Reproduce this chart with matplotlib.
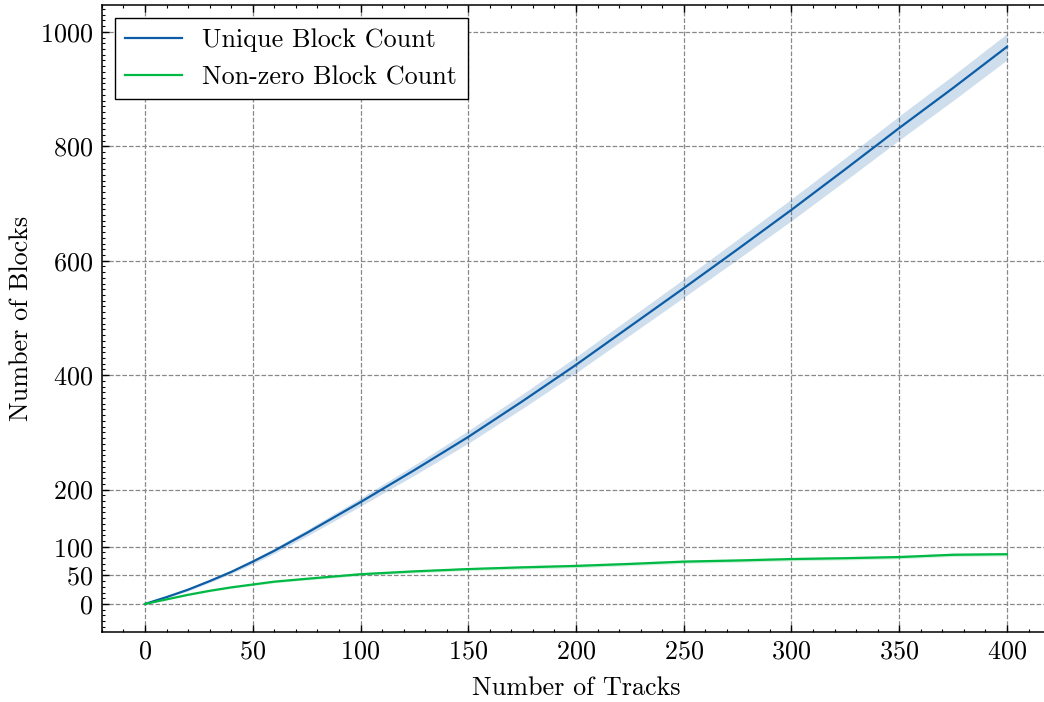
import matplotlib
matplotlib.use("Agg")
import matplotlib.pyplot as plt
from matplotlib.ticker import MultipleLocator, FixedLocator
import numpy as np

plt.rcParams['font.family'] = 'serif'
plt.rcParams['font.serif'] = ['cmr10', 'DejaVu Serif']
plt.rcParams['mathtext.fontset'] = 'cm'
plt.rcParams['axes.formatter.use_mathtext'] = True
plt.rcParams['font.size'] = 18.8

tracks = [0, 10, 20, 30, 40, 50, 60, 75, 100, 125, 150, 175, 200,
          225, 250, 275, 300, 325, 350, 375, 400]

unique_mean = [0, 12, 25, 40, 56, 74, 93, 124, 178, 234, 292, 354, 418,
               485, 552, 620, 689, 760, 832, 902, 974]
unique_err = [0, 1, 2, 2.5, 3, 4, 4.5, 5.5, 7, 9, 11, 12.5, 14,
              15, 16, 17.5, 19, 20, 21, 22, 23]

nonzero_mean = [0, 8, 16, 23, 29, 34, 39, 44, 52, 57, 61, 64, 66.5,
                70, 74, 76, 78.5, 80, 82, 86, 87]
nonzero_err = [0, 0.5, 1, 1.5, 1.5, 2, 2, 2, 2.5, 2.5, 2.5, 3, 3,
               3, 3, 3, 3, 3, 3, 3, 3]

y_ticks = [0, 50, 100, 200, 400, 600, 800, 1000]
x_ticks = [0, 50, 100, 150, 200, 250, 300, 350, 400]

blue = '#0C5DA5'
green = '#00B945'

fig = plt.figure(figsize=(10.44, 7.02), dpi=100)
# axes run a little past the right edge of the canvas
ax = fig.add_axes([101.9 / 1044, 70 / 702, 948.2 / 1044, 627 / 702])

x = np.array(tracks)
um, ue = np.array(unique_mean), np.array(unique_err)
nm, ne = np.array(nonzero_mean), np.array(nonzero_err)

ax.fill_between(x, um - ue, um + ue, color=blue, alpha=0.2, lw=0)
ax.plot(x, um, color=blue, lw=1.6, label='Unique Block Count')
ax.fill_between(x, nm - ne, nm + ne, color=green, alpha=0.2, lw=0)
ax.plot(x, nm, color=green, lw=1.6, label='Non-zero Block Count')

ax.set_xlim(-20, 420)
ax.set_ylim(-49, 1047)
ax.xaxis.set_major_locator(FixedLocator(x_ticks))
ax.yaxis.set_major_locator(FixedLocator(y_ticks))
ax.xaxis.set_minor_locator(MultipleLocator(10))
ax.yaxis.set_minor_locator(MultipleLocator(10))

ax.tick_params(which='both', direction='in', top=True, right=False)
ax.tick_params(which='major', length=5, width=1.0)
ax.tick_params(which='minor', length=2.5, width=0.8)
ax.tick_params(axis='x', which='major', pad=5.5)
ax.tick_params(axis='y', which='major', pad=6.5)
for s in ax.spines.values():
    s.set_linewidth(1.1)
ax.spines['right'].set_visible(False)

ax.grid(True, which='major', ls='--', color='#888888', lw=0.9)
ax.set_axisbelow(True)

ax.set_xlabel('Number of Tracks', labelpad=9)
ax.set_ylabel('Number of Blocks', labelpad=5)

leg = ax.legend(loc='upper left', fancybox=False, framealpha=1,
                edgecolor='black', handlelength=2.15, borderpad=0.4,
                handletextpad=0.8, borderaxespad=0.5)
leg.get_frame().set_linewidth(1.0)

fig.savefig('out.png', dpi=100)
